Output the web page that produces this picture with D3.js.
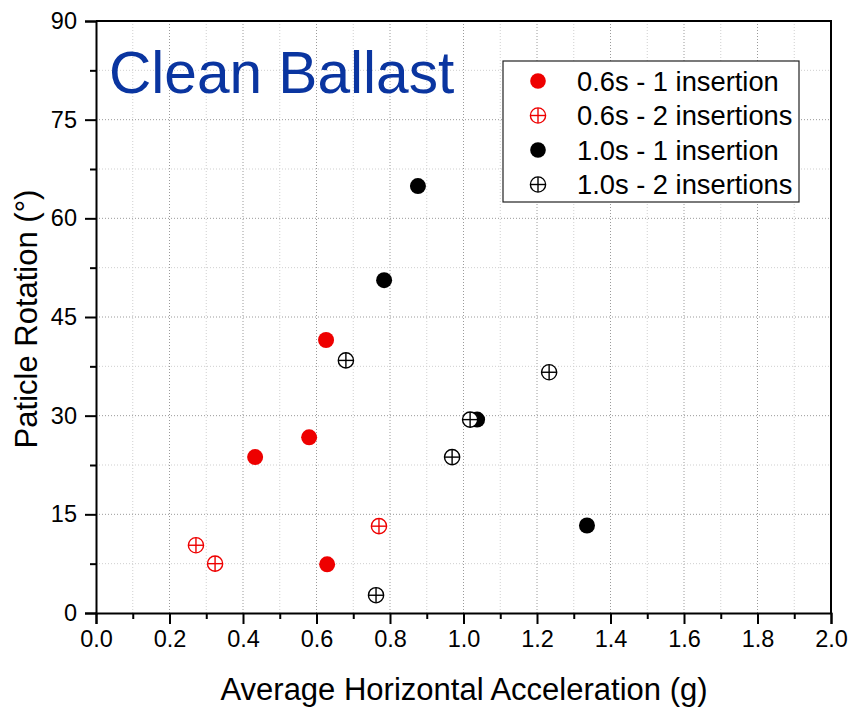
<!DOCTYPE html>
<html><head><meta charset="utf-8">
<script src="https://cdn.jsdelivr.net/npm/d3@7"></script>
<style>body{margin:0;background:#fff}svg{display:block;font-family:"Liberation Sans",Arial,sans-serif}</style>
</head><body>
<script>
const xTicks = [0.0,0.2,0.4,0.6,0.8,1.0,1.2,1.4,1.6,1.8,2.0];
const yTicks = [0,15,30,45,60,75,90];
const seriesNames = ["0.6s - 1 insertion","0.6s - 2 insertions","1.0s - 1 insertion","1.0s - 2 insertions"];
const red1X = [0.626,0.433,0.580,0.629];
const red1Y = [41.5,23.7,26.7,7.4];
const red2X = [0.272,0.324,0.770];
const red2Y = [10.3,7.5,13.2];
const blk1X = [0.876,0.784,1.037,1.336];
const blk1Y = [64.9,50.6,29.4,13.3];
const blk2X = [0.680,1.233,1.018,0.969,0.762];
const blk2Y = [38.4,36.6,29.4,23.7,2.7];

const W=852,H=708;
const m={l:96,r:21,t:21,b:95};
const svg=d3.select("body").append("svg").attr("width",W).attr("height",H);
const x=d3.scaleLinear().domain([0,2]).range([m.l,W-m.r]);
const y=d3.scaleLinear().domain([0,90]).range([H-m.b,m.t]);

// grid
const g=svg.append("g");
d3.range(0.1,2.0,0.1).forEach((v,i)=>{
  const major = (i%2===1);
  g.append("line").attr("x1",x(v)).attr("x2",x(v)).attr("y1",y(0)).attr("y2",y(90))
   .attr("stroke",major?"#9a9a9a":"#cfcfcf").attr("stroke-width",1).attr("stroke-dasharray","1,2");
});
d3.range(7.5,90,7.5).forEach((v,i)=>{
  const major = (i%2===1);
  g.append("line").attr("x1",x(0)).attr("x2",x(2)).attr("y1",y(v)).attr("y2",y(v))
   .attr("stroke",major?"#9a9a9a":"#cfcfcf").attr("stroke-width",1).attr("stroke-dasharray","1,2");
});

// axes
const xAxis=d3.axisBottom(x).tickValues(xTicks).tickFormat(d3.format(".1f")).tickSize(11).tickPadding(6);
const xa=svg.append("g").attr("transform",`translate(0,${y(0)})`).call(xAxis);
const xMinor=d3.axisBottom(x).tickValues(d3.range(0.1,2.0,0.2)).tickFormat("").tickSize(6);
svg.append("g").attr("transform",`translate(0,${y(0)})`).call(xMinor).select(".domain").remove();
const yAxis=d3.axisLeft(y).tickValues(yTicks).tickSize(11).tickPadding(8);
const ya=svg.append("g").attr("transform",`translate(${x(0)},0)`).call(yAxis);
const yMinor=d3.axisLeft(y).tickValues(d3.range(7.5,90,15)).tickFormat("").tickSize(6);
svg.append("g").attr("transform",`translate(${x(0)},0)`).call(yMinor).select(".domain").remove();
svg.selectAll(".tick line").attr("stroke","#000").attr("stroke-width",2);
svg.selectAll(".domain").attr("stroke","#000").attr("stroke-width",2);
xa.selectAll("text").attr("font-size",23.5).attr("fill","#000").attr("font-family","Liberation Sans, Arial, sans-serif");
ya.selectAll("text").attr("font-size",23.5).attr("fill","#000").attr("font-family","Liberation Sans, Arial, sans-serif");
// top & right frame
svg.append("line").attr("x1",x(0)).attr("x2",x(2)+1).attr("y1",y(90)).attr("y2",y(90)).attr("stroke","#000").attr("stroke-width",2);
svg.append("line").attr("x1",x(2)).attr("x2",x(2)).attr("y1",y(90)).attr("y2",y(0)).attr("stroke","#000").attr("stroke-width",2);

// titles
svg.append("text").attr("x",(x(0)+x(2))/2+0.5).attr("y",700).attr("text-anchor","middle").attr("font-size",31).text("Average Horizontal Acceleration (g)");
svg.append("text").attr("transform",`translate(37,${(y(0)+y(90))/2+2}) rotate(-90)`).attr("text-anchor","middle").attr("font-size",31).text("Paticle Rotation (°)");
svg.append("text").attr("x",109).attr("y",93).attr("font-size",58.6).attr("fill","#0a35a0").text("Clean Ballast");

// markers
function crossMark(gg,color){
  gg.append("circle").attr("r",7.6).attr("fill","#fff").attr("stroke",color).attr("stroke-width",1.4);
  gg.append("line").attr("x1",-7.6).attr("x2",7.6).attr("stroke",color).attr("stroke-width",1.4);
  gg.append("line").attr("y1",-7.6).attr("y2",7.6).attr("stroke",color).attr("stroke-width",1.4);
}
function filled(sel,xs,ys,color){
  sel.selectAll(null).data(xs.map((v,i)=>[v,ys[i]])).enter().append("circle")
   .attr("cx",d=>x(d[0])).attr("cy",d=>y(d[1])).attr("r",8).attr("fill",color);
}
function crossed(sel,xs,ys,color){
  const gg=sel.selectAll(null).data(xs.map((v,i)=>[v,ys[i]])).enter().append("g")
   .attr("transform",d=>`translate(${x(d[0])},${y(d[1])})`);
  crossMark(gg,color);
}
const pts=svg.append("g");
filled(pts,red1X,red1Y,"#ee0000");
crossed(pts,red2X,red2Y,"#ee0000");
crossed(pts,blk2X.slice(0,2),blk2Y.slice(0,2),"#000");
filled(pts,blk1X,blk1Y,"#000");
crossed(pts,blk2X.slice(2),blk2Y.slice(2),"#000");

// legend
const lg=svg.append("g");
lg.append("rect").attr("x",503).attr("y",61).attr("width",296).attr("height",141).attr("fill","#fff").attr("stroke","#222").attr("stroke-width",1.2);
const colors=["#ee0000","#ee0000","#000","#000"];
seriesNames.forEach((n,i)=>{
  const cy=81+i*34.5;
  if(i%2===0){
    lg.append("circle").attr("cx",538).attr("cy",cy).attr("r",7.8).attr("fill",colors[i]);
  } else {
    crossMark(lg.append("g").attr("transform",`translate(538,${cy})`),colors[i]);
  }
  lg.append("text").attr("x",577).attr("y",cy+9.5).attr("font-size",27.3).text(n);
});
</script>
</body></html>
